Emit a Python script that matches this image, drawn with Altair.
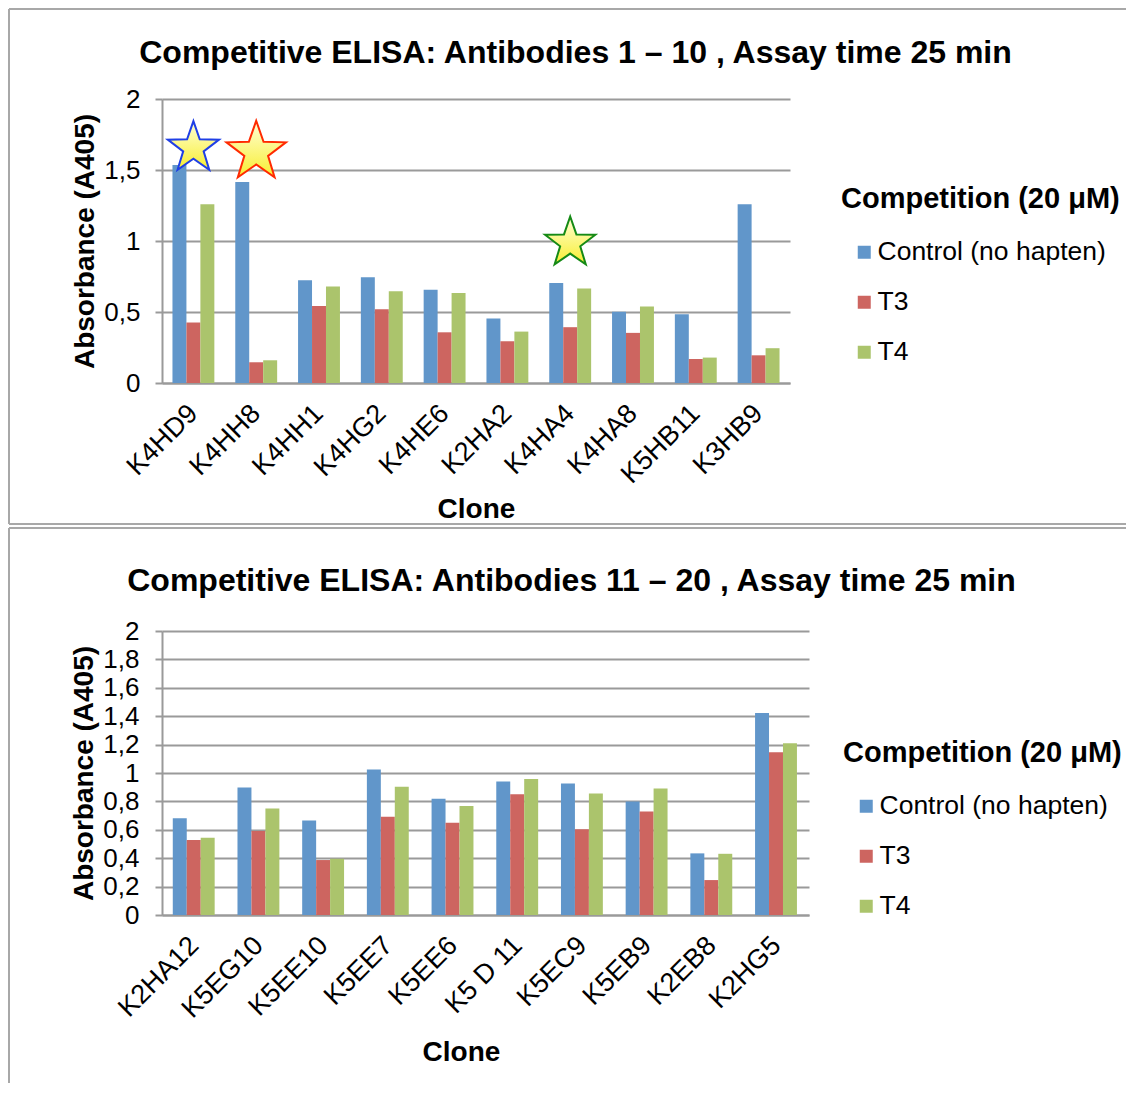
import altair as alt
import pandas as pd

# ---------------- data ----------------
series_names = ["Control (no hapten)", "T3", "T4"]
series_colors = ["#6196CA", "#CD6560", "#ABC46C"]

clones_top = ["K4HD9", "K4HH8", "K4HH1", "K4HG2", "K4HE6", "K2HA2", "K4HA4", "K4HA8", "K5HB11", "K3HB9"]
control_top = [1.535, 1.415, 0.724, 0.745, 0.656, 0.454, 0.705, 0.501, 0.484, 1.258]
t3_top = [0.426, 0.146, 0.543, 0.520, 0.357, 0.294, 0.393, 0.353, 0.169, 0.195]
t4_top = [1.258, 0.160, 0.680, 0.647, 0.633, 0.362, 0.665, 0.538, 0.179, 0.245]

clones_bottom = ["K2HA12", "K5EG10", "K5EE10", "K5EE7", "K5EE6", "K5 D 11", "K5EC9", "K5EB9", "K2EB8", "K2HG5"]
control_bottom = [0.682, 0.898, 0.666, 1.025, 0.818, 0.940, 0.926, 0.800, 0.434, 1.423]
t3_bottom = [0.528, 0.591, 0.387, 0.692, 0.650, 0.851, 0.603, 0.729, 0.246, 1.147]
t4_bottom = [0.544, 0.750, 0.396, 0.903, 0.767, 0.957, 0.856, 0.891, 0.431, 1.210]

ticks_top = [0, 0.5, 1, 1.5, 2]
ticks_bottom = [0, 0.2, 0.4, 0.6, 0.8, 1, 1.2, 1.4, 1.6, 1.8, 2]

star_clones = ["K4HD9", "K4HH8", "K4HA4"]
star_levels = [1.655, 1.627, 0.986]

title_top = "Competitive ELISA: Antibodies 1 \u2013 10 , Assay time 25 min"
title_bottom = "Competitive ELISA: Antibodies 11 \u2013 20 , Assay time 25 min"
legend_title = "Competition (20 \u03bcM)"

# ---------------- styles ----------------
FONT = "Liberation Sans"
GRID = "#9A9A9A"
FRAME = "#A8A8A8"
STAR_PATH = ("M0,-1L0.235,-0.324L0.951,-0.309L0.380,0.124L0.588,0.809L0,0.4"
             "L-0.588,0.809L-0.380,0.124L-0.951,-0.309L-0.235,-0.324Z")
STAR_STYLES = [("#1F3FE6", 2900), ("#FF2A00", 3900), ("#158A15", 2800)]
STAR_FILL = alt.LinearGradient(
    gradient="linear", x1=0, y1=0, x2=0, y2=1,
    stops=[alt.GradientStop(offset=0, color="#FFFFD8"),
           alt.GradientStop(offset=1, color="#F8EE30")],
)


def long_df(clones, ctrl, t3, t4):
    rows = []
    for c, a, b, d in zip(clones, ctrl, t3, t4):
        for s, v in zip(series_names, (a, b, d)):
            rows.append({"Clone": c, "Series": s, "Absorbance": v})
    return pd.DataFrame(rows)


def panel(title, clones, ctrl, t3, t4, ticks, width, height, frame, legend_xy,
          title_offset, title_dx, label_pad, x_title_x, x_title_pad, with_stars):
    df = long_df(clones, ctrl, t3, t4)
    fl, ft, fr, fb, draw_bottom = frame

    bars = alt.Chart(df).mark_bar().encode(
        x=alt.X("Clone:N", sort=clones,
                scale=alt.Scale(paddingInner=0.333, paddingOuter=0.1667),
                axis=alt.Axis(title="Clone", labelAngle=-45, labelFontSize=27,
                              labelAlign="right", labelBaseline="middle",
                              labelColor="black", titleFontSize=28,
                              titleFontWeight="bold", titleColor="black",
                              ticks=False, domainColor=GRID, domainWidth=2,
                              labelPadding=26, titlePadding=x_title_pad, grid=False,
                              titleX=x_title_x)),
        xOffset=alt.XOffset("Series:N", sort=series_names),
        y=alt.Y("Absorbance:Q", scale=alt.Scale(domain=[0, 2], nice=False),
                axis=alt.Axis(values=ticks,
                              labelExpr="replace(format(datum.value, '.1~f'), '.', ',')",
                              title="Absorbance (A405)", grid=True, gridColor=GRID,
                              gridWidth=2, tickSize=7, tickColor=GRID, tickWidth=2,
                              domainColor=GRID, domainWidth=2, labelFontSize=26,
                              labelColor="black", labelPadding=label_pad,
                              titleFontSize=28, titleFontWeight="bold",
                              titleColor="black", titlePadding=4)),
        color=alt.Color("Series:N", sort=series_names,
                        scale=alt.Scale(domain=series_names, range=series_colors),
                        legend=alt.Legend(title=legend_title, orient="none",
                                          legendX=legend_xy[0], legendY=legend_xy[1],
                                          symbolType="square", symbolSize=169,
                                          symbolStrokeWidth=0, symbolOffset=10,
                                          labelFontSize=26.5, labelColor="black",
                                          labelOffset=0, labelLimit=400,
                                          titleFontSize=29, titleFontWeight="bold",
                                          titleColor="black", titleLimit=400,
                                          titlePadding=25, rowPadding=23, padding=0)),
    )

    one = pd.DataFrame({"k": [0]})
    rule = lambda: alt.Chart(one).mark_rule(color=FRAME, strokeWidth=2)
    layers = [
        rule().encode(x=alt.value(fl), x2=alt.value(fl), y=alt.value(ft), y2=alt.value(fb)),
        rule().encode(x=alt.value(fl), x2=alt.value(fr), y=alt.value(ft), y2=alt.value(ft)),
    ]
    if draw_bottom:
        layers.append(rule().encode(x=alt.value(fl), x2=alt.value(fr),
                                    y=alt.value(fb), y2=alt.value(fb)))
    layers.append(bars)

    if with_stars:
        for c, lv, (col, sz) in zip(star_clones, star_levels, STAR_STYLES):
            sdf = pd.DataFrame({"Clone": [c], "Absorbance": [lv]})
            layers.append(
                alt.Chart(sdf).mark_point(shape=STAR_PATH, filled=True, fill=STAR_FILL,
                                          stroke=col, strokeWidth=2, opacity=1,
                                          size=sz).encode(
                    x=alt.X("Clone:N", sort=clones),
                    y=alt.Y("Absorbance:Q"),
                )
            )

    return alt.layer(*layers).properties(
        width=width, height=height,
        title=alt.Title(title, fontSize=32, font=FONT, fontWeight="bold", color="black",
                        anchor="middle", frame="bounds", offset=title_offset, dx=title_dx,
                        baseline="middle"),
    )


top = panel(title_top, clones_top, control_top, t3_top, t4_top, ticks_top,
            628, 284, (-153, -90, 964, 425, True), (679, 86), -77, 8, 15, 314, 8, True)
bottom = panel(title_bottom, clones_bottom, control_bottom, t3_bottom, t4_bottom,
               ticks_bottom, 647, 284, (-153, -103, 964, 452, False), (681, 108), -86, 4,
               16, 299, 16, False)

chart = alt.concat(top, bottom, columns=1, spacing=2, align="none").resolve_scale(
    color="independent"
).properties(padding=0).configure(font=FONT).configure_view(strokeWidth=0)

chart.save("out.html", embed_options={"renderer": "svg", "actions": False})
